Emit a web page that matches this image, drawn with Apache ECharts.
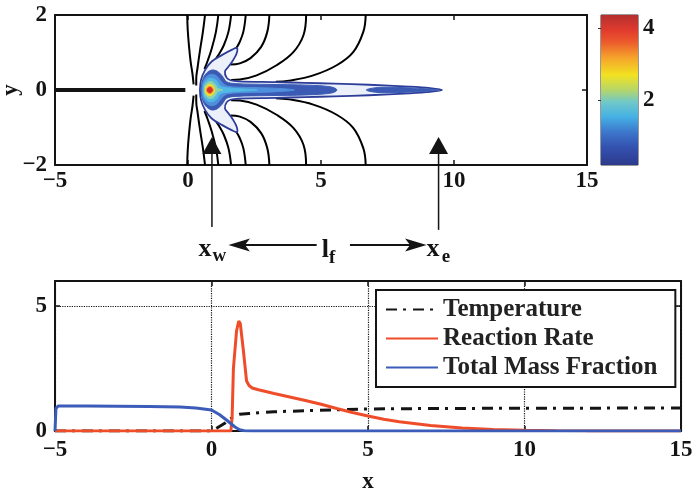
<!DOCTYPE html>
<html>
<head>
<meta charset="utf-8">
<script src="https://cdn.jsdelivr.net/npm/echarts@6/dist/echarts.min.js"></script>
<style>
  html, body { margin: 0; padding: 0; background: #ffffff; }
  #chart { width: 693px; height: 489px; }
</style>
</head>
<body>
<div id="chart"></div>
<script>
// ---------- top panel: field lines (upper and lower halves) ----------
const fieldLineL1 = [[-0.03, 2], [-0.01, 1.6], [0.04, 1.15], [0.1, 0.75], [0.17, 0.42], [0.21, 0.15]];
const fieldLineL2 = [[0.64, 2], [0.56, 1.55], [0.45, 1.05], [0.36, 0.6], [0.31, 0.3], [0.31, 0.12]];
const fieldLineL3 = [[1.14, 2], [1.05, 1.55], [0.89, 1.1], [0.74, 0.78], [0.62, 0.56]];
const fieldLineL4 = [[1.62, 2], [1.52, 1.55], [1.35, 1.2], [1.17, 0.96], [1.06, 0.85]];
const fieldLineL5 = [[2.17, 2], [2.08, 1.55], [1.93, 1.26], [1.8, 1.1]];
const fieldLineL6 = [[3.06, 2], [2.98, 1.55], [2.75, 1.15], [2.35, 0.85], [1.95, 0.71], [1.6, 0.68]];
const fieldLineL7 = [[4.44, 2], [4.34, 1.46], [3.96, 1.01], [3.33, 0.66], [2.58, 0.39], [1.95, 0.28], [1.62, 0.27]];
const fieldLineL8 = [[6.68, 2], [6.59, 1.55], [6.21, 1.01], [5.59, 0.66], [4.71, 0.39], [3.8, 0.25], [3.3, 0.22]];
const fieldLineLower1 = [[-0.03, -2], [-0.01, -1.6], [0.04, -1.15], [0.1, -0.75], [0.17, -0.42], [0.21, -0.15]];
const fieldLineLower2 = [[0.64, -2], [0.56, -1.55], [0.45, -1.05], [0.36, -0.6], [0.31, -0.3], [0.31, -0.12]];
const fieldLineLower3 = [[1.14, -2], [1.05, -1.55], [0.89, -1.1], [0.74, -0.78], [0.62, -0.56]];
const fieldLineLower4 = [[1.62, -2], [1.52, -1.55], [1.35, -1.2], [1.17, -0.96], [1.06, -0.85]];
const fieldLineLower5 = [[2.17, -2], [2.08, -1.55], [1.93, -1.26], [1.8, -1.1]];
const fieldLineLower6 = [[3.06, -2], [2.98, -1.55], [2.75, -1.15], [2.35, -0.85], [1.95, -0.71], [1.6, -0.68]];
const fieldLineLower7 = [[4.44, -2], [4.34, -1.46], [3.96, -1.01], [3.33, -0.66], [2.58, -0.39], [1.95, -0.28], [1.62, -0.27]];
const fieldLineLower8 = [[6.68, -2], [6.59, -1.55], [6.21, -1.01], [5.59, -0.66], [4.71, -0.39], [3.8, -0.25], [3.3, -0.22]];

// splitter plate along the centreline
const splitterPlate = [[-5, 0], [-0.1, 0]];

// reaction-rate contours (closed outlines), lowest level first
const contourValues = [0.35, 0.8, 0.8, 1.2, 1.7, 2.4, 3.1, 3.7, 4.2];
const contourColors = ['#2d3d98', '#3a5ab4', '#3a5ab4', '#4f8fdb', '#52b8e6', '#93d3a6', '#f2df33', '#f39a2d', '#d9302c'];
const contourFilled = [false, true, true, true, true, true, true, true, true];
const contourA = [[0.45, 0], [0.49, 0.27], [0.64, 0.53], [0.89, 0.76], [1.27, 0.93], [1.64, 1.07], [1.84, 1.12], [1.83, 0.98],
  [1.7, 0.8], [1.52, 0.62], [1.39, 0.49], [1.45, 0.33], [1.6, 0.26], [1.9, 0.23], [3.3, 0.21], [4.4, 0.19], [5.5, 0.17],
  [6.8, 0.14], [8.3, 0.09], [9.1, 0.05], [9.55, 0], [9.1, -0.05], [8.3, -0.09], [6.8, -0.14], [5.5, -0.17], [4.4, -0.19],
  [3.3, -0.21], [1.9, -0.23], [1.6, -0.26], [1.45, -0.33], [1.39, -0.49], [1.52, -0.62], [1.7, -0.8], [1.83, -0.98],
  [1.84, -1.12], [1.64, -1.07], [1.27, -0.93], [0.89, -0.76], [0.64, -0.53], [0.49, -0.27]];
const contourB = [[0.5, 0], [0.53, 0.22], [0.66, 0.42], [0.88, 0.53], [1.1, 0.5], [1.28, 0.38], [1.45, 0.22], [1.8, 0.17],
  [3, 0.15], [4.5, 0.13], [5.4, 0.08], [5.6, 0], [5.4, -0.08], [4.5, -0.13], [3, -0.15], [1.8, -0.17], [1.45, -0.22],
  [1.28, -0.38], [1.1, -0.5], [0.88, -0.53], [0.66, -0.42], [0.53, -0.22]];
const contourBTip = [[6.7, 0], [7.2, 0.07], [8.5, 0.05], [9.4, 0], [8.5, -0.05], [7.2, -0.07]];
const contourC = [[0.53, 0], [0.57, 0.22], [0.7, 0.36], [0.9, 0.42], [1.1, 0.36], [1.28, 0.2], [1.5, 0.1], [2.2, 0.07],
  [3.2, 0.05], [4, 0], [3.2, -0.05], [2.2, -0.07], [1.5, -0.1], [1.28, -0.2], [1.1, -0.36], [0.9, -0.42], [0.7, -0.36], [0.57, -0.22]];
const contourD = [[0.57, 0], [0.61, 0.18], [0.74, 0.29], [0.92, 0.31], [1.08, 0.24], [1.22, 0.1], [1.6, 0.05], [2.6, 0],
  [1.6, -0.05], [1.22, -0.1], [1.08, -0.24], [0.92, -0.31], [0.74, -0.29], [0.61, -0.18]];
const contourE = [[0.61, 0], [0.65, 0.14], [0.78, 0.22], [0.93, 0.21], [1.05, 0.12], [1.12, 0.04], [1.3, 0],
  [1.12, -0.04], [1.05, -0.12], [0.93, -0.21], [0.78, -0.22], [0.65, -0.14]];
const contourF = [[0.65, 0], [0.69, 0.1], [0.8, 0.15], [0.92, 0.12], [0.99, 0.04], [1.0, 0],
  [0.99, -0.04], [0.92, -0.12], [0.8, -0.15], [0.69, -0.1]];
const contourG = [[0.69, 0], [0.73, 0.07], [0.82, 0.1], [0.91, 0.07], [0.95, 0], [0.91, -0.07], [0.82, -0.1], [0.73, -0.07]];
const contourH = [[0.73, 0], [0.76, 0.05], [0.83, 0.07], [0.9, 0.04], [0.92, 0], [0.9, -0.04], [0.83, -0.07], [0.76, -0.05]];
const contourOutlines = [contourA, contourB, contourBTip, contourC, contourD, contourE, contourF, contourG, contourH];

// colour scale
const colorMin = 0.19;
const colorMax = 4.36;
const colorbarTicks = [2, 4];

// flame end markers
const flameWestX = 0.9;
const flameEastX = 9.42;

// ---------- bottom panel: centreline profiles ----------
const temperature = [[-5, 0], [0, 0], [0.2, 0.14], [0.45, 0.33], [0.6, 0.48], [0.75, 0.62], [0.9, 0.67], [1.2, 0.7],
  [1.5, 0.73], [2, 0.77], [3, 0.81], [4, 0.85], [5, 0.88], [7, 0.9], [10, 0.91], [15, 0.92]];
const reactionRate = [[-5, 0], [0.62, 0], [0.66, 0.6], [0.7, 2.5], [0.8, 4.0], [0.87, 4.4], [0.92, 4.3], [1.02, 3.2],
  [1.12, 2.0], [1.2, 1.82], [1.3, 1.72], [1.5, 1.65], [2, 1.5], [2.5, 1.36], [3, 1.22], [3.5, 1.07], [4, 0.9],
  [4.5, 0.74], [5, 0.6], [5.5, 0.47], [6, 0.37], [7, 0.22], [8, 0.12], [9, 0.06], [10, 0.03], [11, 0.015],
  [12, 0.005], [13, 0], [15, 0]];
const totalMassFraction = [[-5, 0], [-4.97, 0.9], [-4.9, 1.0], [-4, 1.0], [-3, 0.99], [-2, 0.98], [-1, 0.96],
  [-0.5, 0.92], [0, 0.84], [0.25, 0.66], [0.5, 0.42], [0.75, 0.16], [0.9, 0.05], [1.05, 0.01], [1.3, 0], [15, 0]];

const seriesNames = ['Temperature', 'Reaction Rate', 'Total Mass Fraction'];

// ---------- styling helpers ----------
const SERIF = '"Liberation Serif", "DejaVu Serif", serif';
const INK = '#141414';
const labelFont = { fontFamily: SERIF, fontWeight: 'bold', fontSize: 23, color: INK };
const minus = v => String(v).replace('-', '\u2212');

function frameAxis(gridIndex, position, opts) {
  return Object.assign({
    gridIndex: gridIndex,
    type: 'value',
    position: position,
    axisLine: { show: true, onZero: false, lineStyle: { color: INK, width: 2 } },
    axisTick: { show: true, inside: true, length: 5, lineStyle: { color: INK, width: 1.5 } },
    axisLabel: { show: false },
    splitLine: { show: false }
  }, opts);
}

const fieldLines = [fieldLineL1, fieldLineL2, fieldLineL3, fieldLineL4, fieldLineL5, fieldLineL6, fieldLineL7, fieldLineL8,
  fieldLineLower1, fieldLineLower2, fieldLineLower3, fieldLineLower4, fieldLineLower5, fieldLineLower6, fieldLineLower7, fieldLineLower8];

const chart = echarts.init(document.getElementById('chart'));

const option = {
  animation: false,
  backgroundColor: '#ffffff',
  grid: [
    { left: 55, top: 15, width: 532, height: 150, outerBoundsMode: 'none', containLabel: false },
    { left: 601, top: 15, width: 37, height: 150, show: true, borderColor: '#333', borderWidth: 1, outerBoundsMode: 'none', containLabel: false },
    { left: 55, top: 281, width: 626, height: 150, outerBoundsMode: 'none', containLabel: false }
  ],
  xAxis: [
    frameAxis(0, 'bottom', { min: -5, max: 15, interval: 5,
      axisLabel: Object.assign({ show: true, margin: 5, formatter: minus }, labelFont) }),
    frameAxis(0, 'top', { min: -5, max: 15, interval: 5 }),
    { gridIndex: 1, type: 'value', min: 0, max: 1, show: false },
    frameAxis(2, 'bottom', { min: -5, max: 15, interval: 5,
      axisLabel: Object.assign({ show: true, margin: 8, formatter: minus }, labelFont),
      name: 'x', nameLocation: 'middle', nameGap: 40, nameTextStyle: labelFont,
      splitLine: { show: true, lineStyle: { type: 'dotted', color: INK, width: 1.2 } } }),
    frameAxis(2, 'top', { min: -5, max: 15, interval: 5 })
  ],
  yAxis: [
    frameAxis(0, 'left', { min: -2, max: 2, interval: 2,
      axisLabel: Object.assign({ show: true, margin: 8, formatter: minus }, labelFont),
      name: 'y', nameLocation: 'middle', nameGap: 32, nameRotate: 90, nameMoveOverlap: false,
      nameTextStyle: labelFont }),
    frameAxis(0, 'right', { min: -2, max: 2, interval: 2 }),
    { gridIndex: 1, type: 'value', min: colorMin, max: colorMax, position: 'right',
      axisLine: { show: false },
      axisTick: { show: true, inside: true, length: 3, customValues: colorbarTicks, lineStyle: { color: '#333' } },
      axisLabel: Object.assign({ show: true, margin: 5, customValues: colorbarTicks }, labelFont),
      splitLine: { show: false } },
    frameAxis(2, 'left', { min: 0, max: 6, interval: 5,
      axisLabel: Object.assign({ show: true, margin: 8, formatter: v => (v === 0 || v === 5) ? String(v) : '' }, labelFont),
      splitLine: { show: true, lineStyle: { type: 'dotted', color: INK, width: 1.2 } } }),
    frameAxis(2, 'right', { min: 0, max: 6, interval: 5 })
  ],
  legend: {
    data: seriesNames,
    orient: 'vertical',
    left: 376,
    top: 290,
    padding: [7, 18, 7, 9],
    itemGap: 4,
    itemWidth: 52,
    itemHeight: 14,
    backgroundColor: '#ffffff',
    borderColor: INK,
    borderWidth: 2,
    borderRadius: 0,
    itemStyle: { opacity: 0 },
    textStyle: { fontFamily: SERIF, fontWeight: 'bold', fontSize: 25, lineHeight: 22, color: '#222' }
  },
  series: [].concat(
    fieldLines.map(pts => ({
      type: 'line', xAxisIndex: 0, yAxisIndex: 0, data: pts, smooth: 0.4, symbol: 'none', silent: true,
      lineStyle: { color: '#000', width: 2 }, z: 2
    })),
    [{
      type: 'line', xAxisIndex: 0, yAxisIndex: 0, data: splitterPlate, symbol: 'none', silent: true,
      lineStyle: { color: INK, width: 4 }, z: 2
    },
    {
      type: 'custom', xAxisIndex: 0, yAxisIndex: 0, silent: true, z: 3,
      data: contourValues.map((v, i) => [i, v]),
      renderItem: function (params, api) {
        const i = params.dataIndex;
        const pts = contourOutlines[i].map(p => api.coord(p));
        return {
          type: 'polygon',
          shape: { points: pts, smooth: 0.35 },
          style: {
            fill: contourFilled[i] ? contourColors[i] : 'rgba(190,205,240,0.3)',
            stroke: contourColors[i],
            lineWidth: i === 0 ? 1.8 : 1
          }
        };
      }
    },
    {
      type: 'custom', xAxisIndex: 2, yAxisIndex: 2, silent: true,
      data: [[0, colorMin, colorMax]],
      renderItem: function (params, api) {
        const p0 = api.coord([0, api.value(2)]);
        const p1 = api.coord([1, api.value(1)]);
        return {
          type: 'rect',
          shape: { x: p0[0], y: p0[1], width: p1[0] - p0[0], height: p1[1] - p0[1] },
          style: {
            fill: new echarts.graphic.LinearGradient(0, 1, 0, 0, [
              { offset: 0, color: '#2c3a8c' },
              { offset: 0.12, color: '#3452b0' },
              { offset: 0.22, color: '#3d77cc' },
              { offset: 0.32, color: '#45b0e4' },
              { offset: 0.42, color: '#70c8c8' },
              { offset: 0.5, color: '#b5d66a' },
              { offset: 0.6, color: '#f2e221' },
              { offset: 0.72, color: '#f5a02c' },
              { offset: 0.82, color: '#ec5a2c' },
              { offset: 0.9, color: '#e03a2e' },
              { offset: 1, color: '#b5302f' }
            ])
          }
        };
      }
    },
    {
      name: seriesNames[0], type: 'line', xAxisIndex: 3, yAxisIndex: 3, data: temperature, symbol: 'none',
      lineStyle: { color: INK, width: 3, type: [11, 6, 3, 7] }, itemStyle: { color: INK }, z: 4
    },
    {
      name: seriesNames[1], type: 'line', xAxisIndex: 3, yAxisIndex: 3, data: reactionRate, symbol: 'none',
      lineStyle: { color: '#ef4d29', width: 3 }, itemStyle: { color: '#ef4d29' }, z: 5
    },
    {
      name: seriesNames[2], type: 'line', xAxisIndex: 3, yAxisIndex: 3, data: totalMassFraction, symbol: 'none',
      lineStyle: { color: '#3b5cb8', width: 3 }, itemStyle: { color: '#3b5cb8' }, z: 6
    }]
  )
};

chart.setOption(option);

// flame-length annotation under the top panel
const finder = { xAxisIndex: 0, yAxisIndex: 0 };
const west = chart.convertToPixel(finder, [flameWestX, -1.25]);
const east = chart.convertToPixel(finder, [flameEastX, -1.25]);
const mid = (west[0] + east[0]) / 2;
const rowY = 245;
const big = { fontFamily: SERIF, fontWeight: 'bold', fontSize: 26, fill: INK, align: 'center', verticalAlign: 'middle' };
const small = { fontFamily: SERIF, fontWeight: 'bold', fontSize: 19, fill: INK, align: 'center', verticalAlign: 'middle' };

function upArrow(p, shaftLen) {
  return [
    { type: 'polygon', shape: { points: [[p[0], p[1]], [p[0] - 9.5, p[1] + 17], [p[0] + 9.5, p[1] + 17]] },
      style: { fill: INK }, z: 20 },
    { type: 'line', shape: { x1: p[0], y1: p[1] + 16, x2: p[0], y2: p[1] + shaftLen },
      style: { stroke: INK, lineWidth: 1.5 }, z: 20 }
  ];
}

const graphics = [].concat(
  upArrow(west, 90),
  upArrow(east, 93),
  [
    { type: 'line', shape: { x1: mid - 8.6, y1: rowY, x2: west[0] + 30, y2: rowY }, style: { stroke: INK, lineWidth: 2 } },
    { type: 'polygon', shape: { points: [[west[0] + 16.5, rowY], [west[0] + 38, rowY - 6.5], [west[0] + 33, rowY], [west[0] + 38, rowY + 6.5]] },
      style: { fill: INK } },
    { type: 'line', shape: { x1: mid + 24.7, y1: rowY, x2: east[0] - 25, y2: rowY }, style: { stroke: INK, lineWidth: 2 } },
    { type: 'polygon', shape: { points: [[east[0] - 12, rowY], [east[0] - 33.5, rowY - 6.5], [east[0] - 28.5, rowY], [east[0] - 33.5, rowY + 6.5]] },
      style: { fill: INK } },
    { type: 'text', x: west[0] - 7, y: 249, style: Object.assign({ text: 'x' }, big) },
    { type: 'text', x: west[0] + 7.5, y: 256, style: Object.assign({ text: 'w' }, small) },
    { type: 'text', x: mid, y: 250, style: Object.assign({ text: 'l' }, big) },
    { type: 'text', x: mid + 7, y: 258, style: Object.assign({ text: 'f' }, small) },
    { type: 'text', x: east[0] - 5.5, y: 249, style: Object.assign({ text: 'x' }, big) },
    { type: 'text', x: east[0] + 7.5, y: 257, style: Object.assign({ text: 'e' }, small) }
  ]
);

chart.setOption({ graphic: graphics });
</script>
</body>
</html>
